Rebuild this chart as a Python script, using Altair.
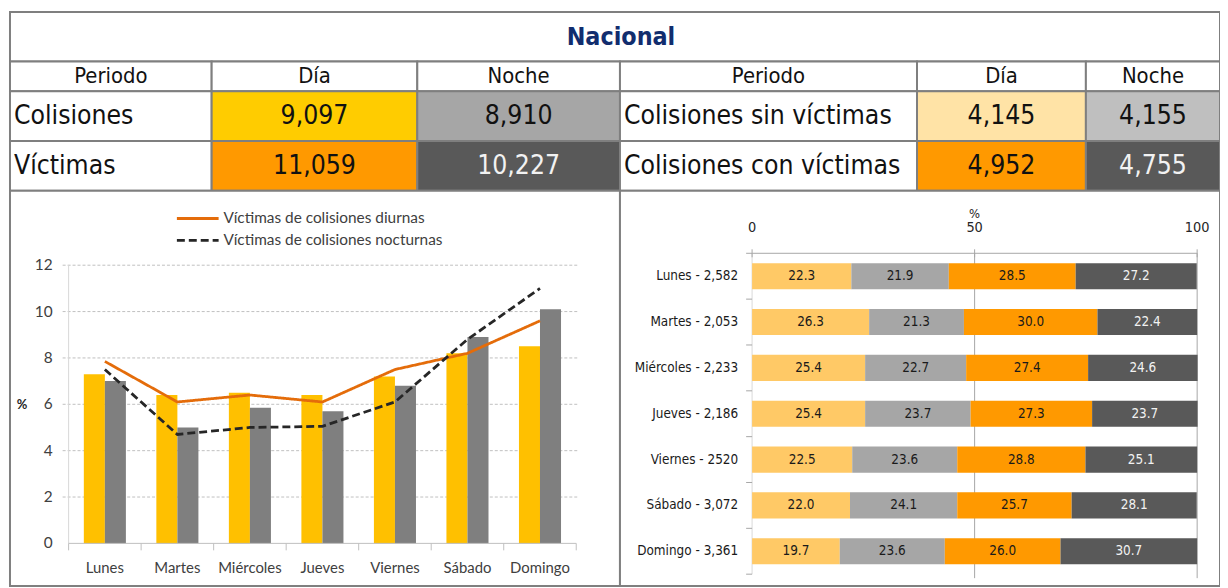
import altair as alt
import pandas as pd

# ------------------------------------------------------------------ data
titulo = "Nacional"
encabezado = ["Periodo", "Día", "Noche"]

tabla1_filas = ["Colisiones", "Víctimas"]
tabla1_dia = [9097, 11059]
tabla1_noche = [8910, 10227]

tabla2_filas = ["Colisiones sin víctimas", "Colisiones con víctimas"]
tabla2_dia = [4145, 4952]
tabla2_noche = [4155, 4755]

dias = ["Lunes", "Martes", "Miércoles", "Jueves", "Viernes", "Sábado", "Domingo"]
periodos = ["Día", "Noche"]
colisiones_dia_pct = [7.3, 6.4, 6.5, 6.4, 7.2, 8.2, 8.5]
colisiones_noche_pct = [7.0, 5.0, 5.85, 5.7, 6.8, 8.9, 10.1]
series = ["Víctimas de colisiones diurnas", "Víctimas de colisiones nocturnas"]
victimas_diurnas_pct = [7.85, 6.1, 6.4, 6.1, 7.5, 8.2, 9.6]
victimas_nocturnas_pct = [7.5, 4.7, 5.0, 5.05, 6.1, 8.8, 11.0]
ticks_izq = [0, 2, 4, 6, 8, 10, 12]

totales_dia = ["2,582", "2,053", "2,233", "2,186", "2520", "3,072", "3,361"]
segmentos = ["Día sin víctimas", "Noche sin víctimas", "Día con víctimas", "Noche con víctimas"]
seg_dia_sin = [22.3, 26.3, 25.4, 25.4, 22.5, 22.0, 19.7]
seg_noche_sin = [21.9, 21.3, 22.7, 23.7, 23.6, 24.1, 23.6]
seg_dia_con = [28.5, 30.0, 27.4, 27.3, 28.8, 25.7, 26.0]
seg_noche_con = [27.2, 22.4, 24.6, 23.7, 25.1, 28.1, 30.7]
ticks_der = [0, 50, 100]
grid_der = [50, 100]

# ------------------------------------------------------------------ layout / style
W, H = 1218, 578
COLS_L = [0, 203, 410, 614]
COLS_R = [614, 913, 1083, 1218]
ROWS = [0, 50, 80, 130, 180, H]
BORDER = "#7F7F7F"
NARROW = "Liberation Sans Narrow, Arial Narrow, DejaVu Sans Condensed, sans-serif"
CAL = "Lato, Open Sans, sans-serif"
FILL_L = [["#FFCC00", "#A6A6A6"], ["#FF9900", "#595959"]]
FILL_R = [["#FFE3A6", "#BFBFBF"], ["#FF9900", "#595959"]]
DARK = "#595959"
AXIS_GREY = "#BFBFBF"

# ------------------------------------------------------------------ table frames
cells, heads, rowlabs, vals = [], [], [], []
cells.append(dict(x0=0, x1=W, y0=ROWS[0], y1=ROWS[1], fill="#FFFFFF"))
for cols, filas, vd, vn, fills in [
    (COLS_L, tabla1_filas, tabla1_dia, tabla1_noche, FILL_L),
    (COLS_R, tabla2_filas, tabla2_dia, tabla2_noche, FILL_R),
]:
    for j, h in enumerate(encabezado):
        cells.append(dict(x0=cols[j], x1=cols[j + 1], y0=ROWS[1], y1=ROWS[2], fill="#FFFFFF"))
        heads.append(dict(tx=(cols[j] + cols[j + 1]) / 2, ty=(ROWS[1] + ROWS[2]) / 2, label=h, tcolor="#111111"))
    for i, fila in enumerate(filas):
        y0, y1 = ROWS[2 + i], ROWS[3 + i]
        cells.append(dict(x0=cols[0], x1=cols[1], y0=y0, y1=y1, fill="#FFFFFF"))
        rowlabs.append(dict(tx=cols[0] + 4, ty=(y0 + y1) / 2, label=fila, tcolor="#111111"))
        for j, v in enumerate([vd[i], vn[i]]):
            f = fills[i][j]
            cells.append(dict(x0=cols[1 + j], x1=cols[2 + j], y0=y0, y1=y1, fill=f))
            vals.append(dict(tx=(cols[1 + j] + cols[2 + j]) / 2, ty=(y0 + y1) / 2,
                             label=f"{v:,}", tcolor="#F2F2F2" if f == DARK else "#111111"))
cells.append(dict(x0=0, x1=COLS_L[3], y0=ROWS[4], y1=ROWS[5], fill="#FFFFFF"))
cells.append(dict(x0=COLS_R[0], x1=W, y0=ROWS[4], y1=ROWS[5], fill="#FFFFFF"))

df_cells = pd.DataFrame(cells)
df_title = pd.DataFrame([dict(tx=615, ty=25, label=titulo, tcolor="#112D6E")])


def px(field):
    return alt.X(f"{field}:Q", scale=None, axis=None)


def py(field):
    return alt.Y(f"{field}:Q", scale=None, axis=None)


rects = alt.Chart(df_cells).mark_rect(stroke=BORDER, strokeWidth=2).encode(
    x=px("x0"), x2="x1:Q", y=py("y0"), y2="y1:Q", fill=alt.Fill("fill:N", scale=None)
)


def text_layer(df, size, align="center", weight="normal"):
    return alt.Chart(pd.DataFrame(df)).mark_text(
        font=NARROW, fontSize=size, align=align, baseline="middle", fontWeight=weight
    ).encode(x=px("tx"), y=py("ty"), text="label:N", color=alt.Color("tcolor:N", scale=None))


t_title = text_layer(df_title, 25, weight="bold")
t_head = text_layer(heads, 22)
t_rows = text_layer(rowlabs, 26.5, align="left")
t_vals = text_layer(vals, 26.5)

IND = dict(x="independent", y="independent", color="independent", strokeDash="independent")

# ------------------------------------------------------------------ left chart
df_barras = pd.DataFrame({
    "dia": dias * 2,
    "periodo": [periodos[0]] * 7 + [periodos[1]] * 7,
    "pct": colisiones_dia_pct + colisiones_noche_pct,
})
df_lineas = pd.DataFrame({
    "dia": dias * 2,
    "serie": [series[0]] * 7 + [series[1]] * 7,
    "pct": victimas_diurnas_pct + victimas_nocturnas_pct,
})
XL = [59, 570]
xs = alt.Scale(domain=dias, range=XL, paddingInner=0.42, paddingOuter=0.21)
xt = alt.Scale(domain=[0, len(dias)], range=XL, nice=False, zero=False)   # category boundaries
ys = alt.Scale(domain=[ticks_izq[0], ticks_izq[-1]], range=[535, 255], nice=False, zero=True)

grid_l = alt.Chart(pd.DataFrame({"v": ticks_izq[1:]})).mark_rule(
    color=AXIS_GREY, strokeDash=[3, 2], strokeWidth=1
).encode(y=alt.Y("v:Q", scale=ys, axis=None), x=alt.value(53), x2=alt.value(571))

ydom_l = alt.Chart(pd.DataFrame({"a": [ticks_izq[0]], "b": [ticks_izq[-1]]})).mark_rule(
    color="#D9D9D9", strokeWidth=1
).encode(y=alt.Y("a:Q", scale=ys, axis=None), y2="b:Q", x=alt.value(59))

xdom_l = alt.Chart(pd.DataFrame({"a": [0], "b": [len(dias)], "y": [0]})).mark_rule(
    color=AXIS_GREY, strokeWidth=1
).encode(x=alt.X("a:Q", scale=xt, axis=None), x2="b:Q", y=alt.Y("y:Q", scale=ys, axis=None))

xticks_l = alt.Chart(pd.DataFrame({"k": list(range(len(dias) + 1)), "y": 0})).mark_rule(
    color=AXIS_GREY, strokeWidth=1
).encode(x=alt.X("k:Q", scale=xt, axis=None), y=alt.Y("y:Q", scale=ys, axis=None), y2=alt.value(542))

bars_l = alt.Chart(df_barras).mark_bar().encode(
    x=alt.X("dia:N", scale=xs, axis=None),
    xOffset=alt.XOffset("periodo:N", scale=alt.Scale(domain=periodos, paddingInner=0, paddingOuter=0)),
    y=alt.Y("pct:Q", scale=ys, axis=None),
    color=alt.Color("periodo:N", scale=alt.Scale(domain=periodos, range=["#FFC000", "#7F7F7F"]), legend=None),
)

col_series = alt.Scale(domain=series, range=["#E46C0A", "#262626"])
dash_series = alt.Scale(domain=series, range=[[1, 0], [8, 4]])

lines_l = alt.Chart(df_lineas).mark_line(strokeWidth=2.8).encode(
    x=alt.X("dia:N", scale=xs, axis=None),
    y=alt.Y("pct:Q", scale=ys, axis=None),
    color=alt.Color("serie:N", scale=col_series, legend=None),
    strokeDash=alt.StrokeDash("serie:N", scale=dash_series, legend=None),
)

xlab_l = alt.Chart(pd.DataFrame({"dia": dias})).mark_text(
    font=CAL, fontSize=15, color="#404040", baseline="middle", align="center"
).encode(x=alt.X("dia:N", scale=xs, axis=None), y=alt.value(560), text="dia:N")

ylab_l = alt.Chart(pd.DataFrame({"v": ticks_izq})).mark_text(
    font=CAL, fontSize=15.5, color="#404040", baseline="middle", align="right"
).encode(y=alt.Y("v:Q", scale=ys, axis=None), x=alt.value(43), text="v:Q")

ytit_l = alt.Chart(pd.DataFrame({"t": ["%"]})).mark_text(
    font=CAL, fontSize=13, fontWeight="bold", color="#262626", baseline="middle", align="center"
).encode(x=alt.value(12), y=alt.value(396), text="t:N")

ley_y = alt.Scale(type="point", domain=series, range=[208, 230], padding=0)
ley_lines = alt.Chart(pd.DataFrame({"serie": series})).mark_rule(strokeWidth=3).encode(
    y=alt.Y("serie:N", scale=ley_y, axis=None), x=alt.value(168), x2=alt.value(210),
    color=alt.Color("serie:N", scale=col_series, legend=None),
    strokeDash=alt.StrokeDash("serie:N", scale=dash_series, legend=None),
)
ley_text = alt.Chart(pd.DataFrame({"serie": series})).mark_text(
    font=CAL, fontSize=15.5, color="#404040", baseline="middle", align="left"
).encode(y=alt.Y("serie:N", scale=ley_y, axis=None), x=alt.value(215), text="serie:N")

left = alt.layer(grid_l, ydom_l, bars_l, xdom_l, xticks_l, lines_l, xlab_l, ylab_l, ytit_l,
                 ley_lines, ley_text).resolve_scale(**IND)

# ------------------------------------------------------------------ right chart
etiquetas = [f"{d} - {t}" for d, t in zip(dias, totales_dia)]
seg_vals = [seg_dia_sin, seg_noche_sin, seg_dia_con, seg_noche_con]
rows = []
for k, s in enumerate(segmentos):
    for i, e in enumerate(etiquetas):
        rows.append(dict(etiqueta=e, segmento=s, orden=k, pct=seg_vals[k][i]))
df_seg = pd.DataFrame(rows)

YR = [243, 566]
xr = alt.Scale(domain=[ticks_der[0], ticks_der[-1]], range=[747, 1195], nice=False, zero=True)
yr = alt.Scale(domain=etiquetas, range=YR, paddingInner=0.43, paddingOuter=0.215)
yt = alt.Scale(domain=[0, len(etiquetas)], range=YR, nice=False, zero=False)

grid_r = alt.Chart(pd.DataFrame({"v": grid_der})).mark_rule(color="#A6A6A6", strokeWidth=1).encode(
    x=alt.X("v:Q", scale=xr, axis=None), y=alt.value(243), y2=alt.value(570)
)

ydom_r = alt.Chart(pd.DataFrame({"a": [0], "b": [len(etiquetas)]})).mark_rule(
    color="#D9D9D9", strokeWidth=1
).encode(y=alt.Y("a:Q", scale=yt, axis=None), y2="b:Q", x=alt.value(747))

yticks_r = alt.Chart(pd.DataFrame({"k": list(range(len(etiquetas) + 1))})).mark_rule(
    color="#A6A6A6", strokeWidth=1
).encode(y=alt.Y("k:Q", scale=yt, axis=None), x=alt.value(741), x2=alt.value(747))

ylab_r = alt.Chart(pd.DataFrame({"etiqueta": etiquetas})).mark_text(
    font=NARROW, fontSize=13.5, color="#1A1A1A", baseline="middle", align="right"
).encode(y=alt.Y("etiqueta:N", scale=yr, axis=None), x=alt.value(733), text="etiqueta:N")

xdom_r = alt.Chart(pd.DataFrame({"a": [ticks_der[0]], "b": [ticks_der[-1]]})).mark_rule(
    color="#A6A6A6", strokeWidth=1
).encode(x=alt.X("a:Q", scale=xr, axis=None), x2="b:Q", y=alt.value(243))

xticks_r = alt.Chart(pd.DataFrame({"v": ticks_der})).mark_rule(color="#A6A6A6", strokeWidth=1).encode(
    x=alt.X("v:Q", scale=xr, axis=None), y=alt.value(239), y2=alt.value(247)
)

xlab_r = alt.Chart(pd.DataFrame({"v": ticks_der})).mark_text(
    font=NARROW, fontSize=14.5, color="#262626", baseline="middle", align="center"
).encode(x=alt.X("v:Q", scale=xr, axis=None), y=alt.value(218), text="v:Q")

xtit_r = alt.Chart(pd.DataFrame({"v": [ticks_der[1]], "t": ["%"]})).mark_text(
    font=NARROW, fontSize=13, color="#262626", baseline="middle", align="center"
).encode(x=alt.X("v:Q", scale=xr, axis=None), y=alt.value(203), text="t:N")

base_r = alt.Chart(df_seg).transform_stack(
    stack="pct", groupby=["etiqueta"], sort=[alt.SortField("orden")], as_=["x0", "x1"]
).transform_calculate(xm="(datum.x0 + datum.x1) / 2")

bars_r = base_r.mark_bar().encode(
    x=alt.X("x0:Q", scale=xr, axis=None),
    x2="x1:Q",
    y=alt.Y("etiqueta:N", scale=yr, axis=None),
    color=alt.Color("segmento:N", scale=alt.Scale(domain=segmentos,
                    range=["#FFC966", "#A6A6A6", "#FF9900", "#595959"]), legend=None),
)

text_r = base_r.mark_text(font=NARROW, fontSize=13.5, baseline="middle").encode(
    x=alt.X("xm:Q", scale=xr, axis=None),
    y=alt.Y("etiqueta:N", scale=yr, axis=None),
    text=alt.Text("pct:Q", format=".1f"),
    color=alt.Color("segmento:N", scale=alt.Scale(domain=segmentos,
                    range=["#1A1A1A", "#1A1A1A", "#1A1A1A", "#F2F2F2"]), legend=None),
)

right = alt.layer(grid_r, ydom_r, bars_r, text_r, yticks_r, ylab_r, xdom_r, xticks_r, xlab_r,
                  xtit_r).resolve_scale(**IND)

# ------------------------------------------------------------------ compose
chart = alt.layer(rects, t_title, t_head, t_rows, t_vals, left, right).resolve_scale(**IND).properties(
    width=W, height=H,
    padding={"left": 2, "top": 2, "right": 0, "bottom": 0},
    autosize=alt.AutoSizeParams(type="none"),
    background="white",
).configure_view(stroke=None)

chart.save("out.html", embed_options={"renderer": "svg", "actions": False})
